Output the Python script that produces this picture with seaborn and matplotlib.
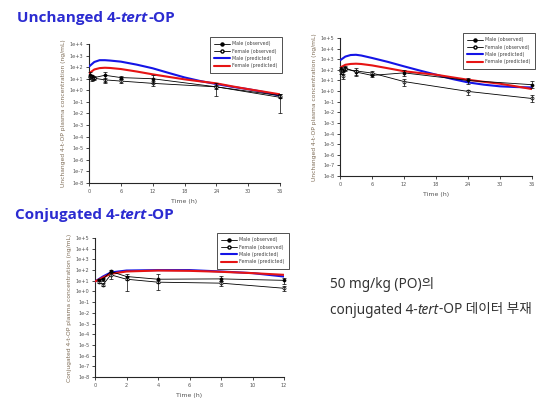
import matplotlib
matplotlib.use('Agg')

import matplotlib.pyplot as plt
import seaborn as sns
from matplotlib.lines import Line2D
from matplotlib.ticker import FixedLocator, NullLocator

sns.set_style('ticks')
plt.rcParams['font.family'] = ['DejaVu Sans']

BLUE = "#1414e6"
RED = "#e61414"
TITLE_C = "#2b2bd1"
LABEL_C = "#7d6b55"
TICK_C = "#555555"

# ─────────────────────────────────────────
# 데이터 (ng/mL)
# ─────────────────────────────────────────
# Unchanged 4-tert-OP (좌측 상단)
tl_t_pred = [0, 1, 2, 3, 4, 6, 9, 12, 15, 18, 21, 24, 27, 30, 33, 36]
tl_male_pred = [112, 280, 400, 400, 370, 300, 165, 80, 32, 13, 6.3, 3.5, 2.0, 1.26, 0.7, 0.35]
tl_female_pred = [29, 63, 83, 89, 85, 69, 42, 24, 14.5, 8.9, 5.9, 4.0, 2.2, 1.26, 0.76, 0.45]
tl_t_obs = [0.25, 0.5, 1, 3, 6, 12, 24, 36]
tl_male_obs = [22, 16, 12.6, 20, 12.6, 10, 2.0, 0.25]
tl_male_lo = [14, 12, 9, 5, 9, 4, 0.3, 0.01]
tl_male_hi = [35, 20, 16, 40, 18, 20, 4, 0.5]
tl_female_obs = [14, 10, 11, 8, 6.3, 4, 2.0, 0.35]
tl_female_lo = [10, 7, 8, 4, 4.5, 2.5, 1.2, 0.2]
tl_female_hi = [18, 13, 14, 12, 9, 6, 3, 0.5]

# Unchanged 4-tert-OP (우측 상단)
tr_t_pred = [0, 1, 2, 3, 4, 6, 9, 12, 15, 18, 21, 24, 27, 30, 33, 36]
tr_male_pred = [790, 1780, 2500, 2630, 2240, 1320, 560, 214, 85, 35, 14, 6.6, 4.0, 2.8, 2.4, 2.2]
tr_female_pred = [160, 300, 360, 380, 355, 263, 141, 74, 50, 35, 20, 11.7, 7.4, 4.9, 2.8, 1.55]
tr_t_obs = [0.25, 0.5, 1, 3, 6, 12, 24, 36]
tr_male_obs = [112, 89, 148, 63, 30, 52, 10, 4.0]
tr_male_lo = [70, 60, 100, 35, 20, 25, 5, 2]
tr_male_hi = [180, 130, 220, 100, 45, 100, 18, 8]
tr_female_obs = [71, 25, 112, 79, 50, 7.9, 0.93, 0.2]
tr_female_lo = [45, 15, 70, 28, 35, 2.8, 0.45, 0.1]
tr_female_hi = [110, 40, 170, 150, 70, 14, 1.3, 0.4]

# Conjugated 4-tert-OP (하단)
b_t_pred = [0, 0.5, 1, 2, 4, 6, 8, 10, 12]
b_male_pred = [8.5, 25, 60, 91, 100, 100, 74, 52, 25]
b_female_pred = [8.5, 20, 45, 74, 91, 85, 69, 52, 36]
b_t_obs = [0.25, 0.5, 1, 2, 4, 8, 12]
b_male_obs = [12, 14, 74, 25, 14, 15, 11]
b_male_lo = [9, 10, 50, 12, 6, 10, 5]
b_male_hi = [16, 18, 110, 40, 40, 30, 20]
b_female_obs = [8.5, 4.2, 36, 14, 7.4, 6.0, 2.0]
b_female_lo = [6, 3, 15, 1, 1.5, 3.5, 1.2]
b_female_hi = [11, 6, 60, 30, 12, 9, 3.2]

LEGEND_LABELS = ["Male (observed)", "Female (observed)", "Male (predicted)", "Female (predicted)"]


def draw_panel(ax, t_pred, m_pred, f_pred, t_obs, m_obs, m_lo, m_hi, f_obs, f_lo, f_hi,
               ytop, xmax, xticks, ylabel):
    sns.lineplot(x=t_obs, y=m_obs, ax=ax, color='black', lw=0.6, marker='o', markersize=2.2,
                 markerfacecolor='black', markeredgecolor='black', markeredgewidth=0.5,
                 zorder=4, clip_on=False)
    sns.lineplot(x=t_obs, y=f_obs, ax=ax, color='black', lw=0.6, marker='o', markersize=2.2,
                 markerfacecolor='white', markeredgecolor='black', markeredgewidth=0.5,
                 zorder=4, clip_on=False)
    for obs, lo_v, hi_v in [(m_obs, m_lo, m_hi), (f_obs, f_lo, f_hi)]:
        eb = ax.errorbar(t_obs, obs, yerr=[[v - lo for v, lo in zip(obs, lo_v)],
                                           [hi - v for v, hi in zip(obs, hi_v)]],
                         fmt='none', ecolor='black', elinewidth=0.5, capsize=1.3,
                         capthick=0.5, zorder=4)
        for art in eb.lines[1] + eb.lines[2]:
            art.set_clip_on(False)
    sns.lineplot(x=t_pred, y=m_pred, ax=ax, color=BLUE, lw=1.5, zorder=3)
    sns.lineplot(x=t_pred, y=f_pred, ax=ax, color=RED, lw=1.5, zorder=3)

    ax.set_yscale('log')
    ax.set_ylim(1e-8, 10.0 ** ytop)
    exps = list(range(-8, ytop + 1))
    ax.yaxis.set_major_locator(FixedLocator([10.0 ** e for e in exps]))
    ax.yaxis.set_minor_locator(NullLocator())
    ax.set_yticklabels([f"1e{e:+d}" for e in exps])
    ax.set_xlim(0, xmax)
    ax.set_xticks(xticks)
    ax.set_xticklabels([str(x) for x in xticks])
    sns.despine(ax=ax)
    for sp in ax.spines.values():
        sp.set_linewidth(0.8)
    ax.tick_params(labelsize=3.6, length=2, width=0.6, pad=2, labelcolor=TICK_C)
    ax.set_ylabel(ylabel, fontsize=4.3, color=LABEL_C, labelpad=3)
    ax.set_xlabel("Time (h)", fontsize=4.5, color=TICK_C, labelpad=4)


def add_legend(ax, fig, x, y):
    handles = [
        Line2D([], [], color='black', lw=0.6, marker='o', ms=2.2, mfc='black', mec='black'),
        Line2D([], [], color='black', lw=0.6, marker='o', ms=2.2, mfc='white', mec='black'),
        Line2D([], [], color=BLUE, lw=1.5),
        Line2D([], [], color=RED, lw=1.5),
    ]
    leg = ax.legend(handles, LEGEND_LABELS, loc='upper right', bbox_to_anchor=(x, y),
                    bbox_transform=fig.transFigure, fontsize=3.4, frameon=True, fancybox=False,
                    edgecolor='black', borderpad=0.9, handlelength=3.2, labelspacing=0.5,
                    handletextpad=0.6, borderaxespad=0)
    leg.get_frame().set_linewidth(0.6)
    for t in leg.get_texts():
        t.set_color('#444444')


def rich_text(bg, x, y, pieces, **kw):
    prev = None
    for s, opts in pieces:
        if prev is None:
            prev = bg.text(x, y, s, transform=bg.transAxes, ha='left', va='center', **kw, **opts)
        else:
            prev = bg.annotate(s, xy=(1, 0), xycoords=prev, ha='left', va='bottom', **kw, **opts)
    return prev


fig = plt.figure(figsize=(5.58, 4.07), dpi=100)
bg = fig.add_axes([0, 0, 1, 1])
bg.axis('off')

ax_tl = fig.add_axes([0.1595, 0.5504, 0.3423, 0.3415])
ax_tr = fig.add_axes([0.6093, 0.5676, 0.3441, 0.3390])
ax_b = fig.add_axes([0.1703, 0.0737, 0.3387, 0.3415])

draw_panel(ax_tl, tl_t_pred, tl_male_pred, tl_female_pred, tl_t_obs, tl_male_obs, tl_male_lo,
           tl_male_hi, tl_female_obs, tl_female_lo, tl_female_hi, 4, 36, [0, 6, 12, 18, 24, 30, 36],
           "Unchanged 4-t-OP plasma concentration (ng/mL)")
draw_panel(ax_tr, tr_t_pred, tr_male_pred, tr_female_pred, tr_t_obs, tr_male_obs, tr_male_lo,
           tr_male_hi, tr_female_obs, tr_female_lo, tr_female_hi, 5, 36, [0, 6, 12, 18, 24, 30, 36],
           "Unchanged 4-t-OP plasma concentration (ng/mL)")
draw_panel(ax_b, b_t_pred, b_male_pred, b_female_pred, b_t_obs, b_male_obs, b_male_lo,
           b_male_hi, b_female_obs, b_female_lo, b_female_hi, 5, 12, [0, 2, 4, 6, 8, 10, 12],
           "Conjugated 4-t-OP plasma concentration (ng/mL)")

add_legend(ax_tl, fig, 282 / 558, 1 - 37 / 407)
add_legend(ax_tr, fig, 535 / 558, 1 - 33 / 407)
add_legend(ax_b, fig, 289 / 558, 1 - 233 / 407)

title_kw = dict(fontsize=11, color=TITLE_C, family=['Open Sans'], fontweight='bold')
rich_text(bg, 17 / 558, 1 - 18 / 407,
          [("Unchanged 4-", {}), ("tert", {'style': 'italic'}), ("-OP", {})], **title_kw)
rich_text(bg, 15 / 558, 1 - 215 / 407,
          [("Conjugated 4-", {}), ("tert", {'style': 'italic'}), ("-OP", {})], **title_kw)

note_kw = dict(fontsize=9.8, color='#333333', family=['Noto Sans', 'Noto Sans CJK KR'])
bg.text(330 / 558, 1 - 285 / 407, "50 mg/kg (PO)의", transform=bg.transAxes,
        ha='left', va='center', **note_kw)
rich_text(bg, 330 / 558, 1 - 310 / 407,
          [("conjugated 4-", {}), ("tert", {'style': 'italic'}), ("-OP 데이터 부재", {})], **note_kw)

plt.savefig("out.png", dpi=100)
plt.close()
